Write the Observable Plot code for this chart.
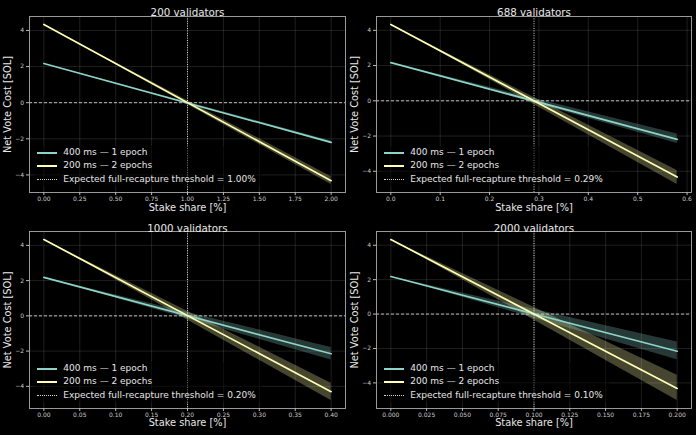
<!DOCTYPE html>
<html>
<head>
<meta charset="utf-8">
<script src="https://cdn.jsdelivr.net/npm/d3@7"></script>
<script src="https://cdn.jsdelivr.net/npm/@observablehq/plot@0.6"></script>
<style>
  html, body { margin: 0; padding: 0; background: #000; }
  #fig { position: relative; width: 696px; height: 435px; background: #000; overflow: hidden; font-family: "DejaVu Sans", sans-serif; }
  .panel { position: absolute; }
  .legend { position: absolute; background: rgba(0,0,0,0.5); padding: 0 6px 0 1.7px; color: #e6e6e6; font-size: 9px; font-family: "DejaVu Sans", sans-serif; }
  .legend .row { height: 13.3px; line-height: 13.3px; white-space: nowrap; display: flex; align-items: center; }
  .legend .sw { display: inline-block; width: 20px; margin-right: 6.6px; }
</style>
</head>
<body>
<div id="fig"></div>
<script>
// ---- data ----
const panelTitles = ["200 validators", "688 validators", "1000 validators", "2000 validators"];
const thresholdPct = [1.00, 0.29, 0.20, 0.10];
const xMax = [2.0, 0.58, 0.40, 0.20];
const seriesNames = ["400 ms — 1 epoch", "200 ms — 2 epochs"];
const seriesColors = ["#8dd3c7", "#feffb3"];
// 400 ms — 1 epoch
const fastStart = [2.17, 2.17, 2.18, 2.18];
const fastEnd = [-2.20, -2.19, -2.15, -2.16];
const fastUpperEnd = [-2.12, -1.88, -1.80, -1.63];
const fastLowerEnd = [-2.27, -2.42, -2.50, -2.66];
// 200 ms — 2 epochs
const slowStart = [4.33, 4.33, 4.33, 4.33];
const slowEnd = [-4.32, -4.33, -4.30, -4.32];
const slowUpperEnd = [-4.10, -3.95, -3.82, -3.56];
const slowLowerEnd = [-4.53, -4.75, -4.80, -5.02];
// ticks
const xTicks = [
  [0, 0.25, 0.5, 0.75, 1.0, 1.25, 1.5, 1.75, 2.0],
  [0, 0.1, 0.2, 0.3, 0.4, 0.5, 0.6],
  [0, 0.05, 0.10, 0.15, 0.20, 0.25, 0.30, 0.35, 0.40],
  [0, 0.025, 0.05, 0.075, 0.1, 0.125, 0.15, 0.175, 0.2]
];
const xTickFormats = [".2f", ".1f", ".2f", ".3f"];
const yTicks = [-4, -2, 0, 2, 4];
const xLabel = "Stake share [%]";
const yLabel = "Net Vote Cost [SOL]";
const thresholdLabel = "Expected full-recapture threshold = ";

// ---- layout ----
const layout = [
  {left: 0,   top: 0,   h: 217, ml: 29, mr: 3, mt: 16, mb: 25},
  {left: 348, top: 0,   h: 217, ml: 28, mr: 5, mt: 16, mb: 25},
  {left: 0,   top: 217, h: 218, ml: 29, mr: 3, mt: 14, mb: 27},
  {left: 348, top: 217, h: 218, ml: 28, mr: 5, mt: 14, mb: 27}
];

const fig = document.getElementById("fig");

panelTitles.forEach((title, i) => {
  const L = layout[i];
  const rows = [
    {series: seriesNames[0], x: 0, y: fastStart[i], lo: fastStart[i], hi: fastStart[i]},
    {series: seriesNames[0], x: xMax[i], y: fastEnd[i], lo: fastLowerEnd[i], hi: fastUpperEnd[i]},
    {series: seriesNames[1], x: 0, y: slowStart[i], lo: slowStart[i], hi: slowStart[i]},
    {series: seriesNames[1], x: xMax[i], y: slowEnd[i], lo: slowLowerEnd[i], hi: slowUpperEnd[i]}
  ];
  const yHi = d3.max(rows, d => d.hi);
  const yLo = d3.min(rows, d => d.lo);
  const ySpan = yHi - yLo;
  const xPad = 0.05 * xMax[i];

  const plot = Plot.plot({
    width: 348,
    height: L.h,
    marginLeft: L.ml, marginRight: L.mr, marginTop: L.mt, marginBottom: L.mb,
    style: {background: "#000", color: "#cccccc", fontFamily: "DejaVu Sans, sans-serif", fontSize: "6px", overflow: "visible"},
    x: {domain: [-xPad, xMax[i] + xPad]},
    y: {domain: [yLo - 0.05 * ySpan, yHi + 0.05 * ySpan]},
    color: {domain: seriesNames, range: seriesColors},
    marks: [
      Plot.gridX(xTicks[i], {stroke: "#ffffff", strokeOpacity: 0.2, strokeWidth: 0.6}),
      Plot.gridY(yTicks, {stroke: "#ffffff", strokeOpacity: 0.2, strokeWidth: 0.6}),
      Plot.areaY(rows, {x: "x", y1: "lo", y2: "hi", z: "series", fill: "series", fillOpacity: 0.27}),
      Plot.ruleY([0], {stroke: "#d0d0d0", strokeDasharray: "3,2", strokeWidth: 0.9}),
      Plot.ruleX([thresholdPct[i]], {stroke: "#d8d8d8", strokeDasharray: "1,1.4", strokeWidth: 1}),
      Plot.line(rows, {x: "x", y: "y", z: "series", stroke: "series", strokeWidth: 1.7}),
      Plot.frame({stroke: "#a8a8a8", strokeWidth: 0.9}),
      Plot.axisX(xTicks[i], {tickFormat: d3.format(xTickFormats[i]), tickSize: 3, tickPadding: 1.5, label: null, stroke: "#bbbbbb", fill: "#cccccc", fontSize: 6}),
      Plot.axisY(yTicks, {tickFormat: d => d3.format("d")(d).replace("-", "−"), tickSize: 3, tickPadding: 2.5, label: null, stroke: "#bbbbbb", fill: "#cccccc", fontSize: 6}),
      Plot.text([title], {frameAnchor: "top", dy: i < 2 ? -7.7 : -7.3, fontSize: 10.3, fill: "#e8e8e8", textAnchor: "middle"}),
      Plot.text([xLabel], {frameAnchor: "bottom", dy: i < 2 ? 18 : 17.3, fontSize: 9.8, fill: "#e8e8e8", textAnchor: "middle"}),
      Plot.text([yLabel], {frameAnchor: "left", dx: -21.5, rotate: -90, fontSize: 9.8, fill: "#e8e8e8", textAnchor: "middle"})
    ]
  });

  const div = document.createElement("div");
  div.className = "panel";
  div.style.left = L.left + "px";
  div.style.top = L.top + "px";
  div.style.width = "348px";
  div.style.height = L.h + "px";
  div.appendChild(plot);

  const frameBottom = L.h - L.mb;
  const leg = document.createElement("div");
  leg.className = "legend";
  leg.style.left = (L.ml + 6) + "px";
  leg.style.top = (frameBottom - 46) + "px";
  const items = [
    {label: seriesNames[0], border: `2px solid ${seriesColors[0]}`},
    {label: seriesNames[1], border: `2px solid ${seriesColors[1]}`},
    {label: thresholdLabel + d3.format(".2f")(thresholdPct[i]) + "%", border: "1px dotted #d8d8d8"}
  ];
  items.forEach(it => {
    const r = document.createElement("div");
    r.className = "row";
    const sw = document.createElement("span");
    sw.className = "sw";
    sw.style.borderTop = it.border;
    r.appendChild(sw);
    const t = document.createElement("span");
    t.textContent = it.label;
    r.appendChild(t);
    leg.appendChild(r);
  });
  div.appendChild(leg);
  fig.appendChild(div);
});
</script>
</body>
</html>
